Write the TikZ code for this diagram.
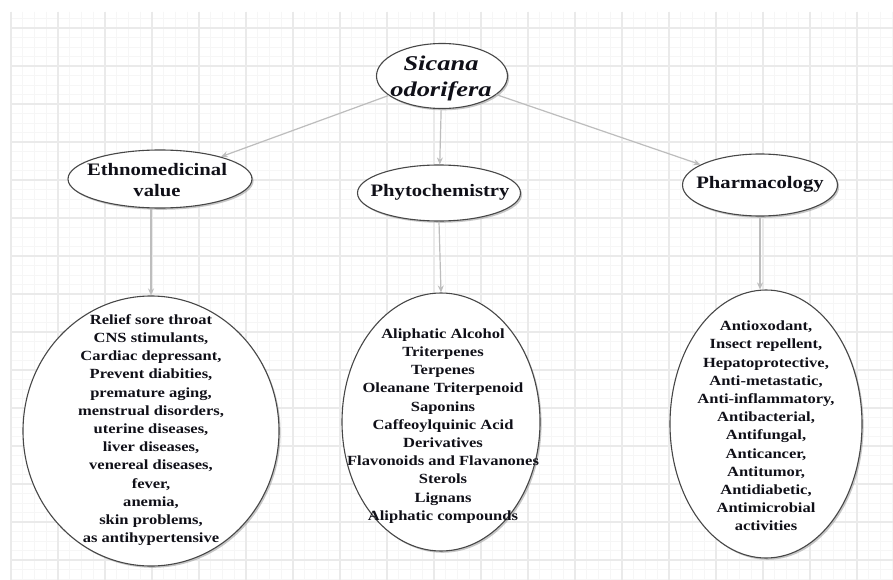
\documentclass[tikz,border=0pt]{standalone}
\usepackage{fontspec}
\setmainfont{Liberation Serif}
\newfontfamily\wideserif[FakeStretch=1.18]{Liberation Serif}
\newfontfamily\titleserif[FakeStretch=1.26]{Liberation Serif}
\usetikzlibrary{shapes.geometric,shadows,arrows.meta}

\definecolor{gridmajor}{HTML}{EAEAEA}
\definecolor{gridminor}{HTML}{F6F6F6}
\definecolor{linkgray}{HTML}{BDBDBD}
\definecolor{inkdark}{HTML}{101018}

\begin{document}
\begin{tikzpicture}[x=1pt,y=-1pt,
  oval/.style={ellipse, draw=black!72, line width=1.1pt, fill=white, inner sep=0pt,
    drop shadow={shadow xshift=1.6pt, shadow yshift=-1.8pt, fill=black!40, opacity=.55}},
  rootfont/.style={font=\titleserif\bfseries\itshape\fontsize{21}{26}\selectfont},
  headfont/.style={font=\wideserif\bfseries\fontsize{17.5}{20.5}\selectfont},
  listfont/.style={font=\wideserif\bfseries\fontsize{14}{18.2}\selectfont},
  txt/.style={text=inkdark, align=center, inner sep=0pt},
  link/.style={draw=linkgray, line width=1.2pt, -{Stealth[length=7pt,width=6pt]}}
]
% page and background grid
\fill[white] (0,0) rectangle (893,580);
\useasboundingbox (0,0) rectangle (893,580);
\foreach \k in {0,...,75} \draw[gridminor, line width=0.9pt] (11+\k*11.75,12) -- (11+\k*11.75,580);
\foreach \k in {-1,...,58} \draw[gridminor, line width=0.9pt] (10,28+\k*9.5) -- (893,28+\k*9.5);
\foreach \k in {0,...,18} \draw[gridmajor, line width=1.2pt] (11+\k*47,12) -- (11+\k*47,580);
\foreach \k in {0,...,14} \draw[gridmajor, line width=1.2pt] (10,28+\k*38) -- (893,28+\k*38);

% root
\node[oval, minimum width=131pt, minimum height=65pt] (root) at (442,76) {};
\node[txt, rootfont] (roottext) at (441,78) {Sicana\\odorifera};

% second level
\node[oval, minimum width=184pt, minimum height=58pt] (ethno) at (160,179) {};
\node[txt, headfont] (ethnotext) at (157,180) {Ethnomedicinal\\value};
\node[oval, minimum width=163pt, minimum height=56pt] (phyto) at (439,193) {};
\node[txt, headfont] (phytotext) at (440,192) {Phytochemistry};
\node[oval, minimum width=155pt, minimum height=62pt] (pharm) at (760,185) {};
\node[txt, headfont] (pharmtext) at (760,184) {Pharmacology};

% third level
\node[oval, minimum width=256pt, minimum height=270pt] (ethnolist) at (151,431) {};
\node[txt, listfont] (ethnolisttext) at (151,430) {Relief sore throat\\CNS stimulants,\\Cardiac depressant,\\Prevent diabities,\\premature aging,\\menstrual disorders,\\uterine diseases,\\liver diseases,\\venereal diseases,\\fever,\\anemia,\\skin problems,\\as antihypertensive};
\node[oval, minimum width=198pt, minimum height=258pt] (phytolist) at (441,422) {};
\node[txt, listfont] (phytolisttext) at (443,426) {Aliphatic Alcohol\\Triterpenes\\Terpenes\\Oleanane Triterpenoid\\Saponins\\Caffeoylquinic Acid\\Derivatives\\Flavonoids and Flavanones\\Sterols\\Lignans\\Aliphatic compounds};
\node[oval, minimum width=192pt, minimum height=268pt] (pharmlist) at (766,424) {};
\node[txt, listfont] (pharmlisttext) at (766,426) {Antioxodant,\\Insect repellent,\\Hepatoprotective,\\Anti-metastatic,\\Anti-inflammatory,\\Antibacterial,\\Antifungal,\\Anticancer,\\Antitumor,\\Antidiabetic,\\Antimicrobial\\activities};

% connectors
\draw[link] (root) -- (ethno);
\draw[link] (root) -- (phyto);
\draw[link] (root) -- (pharm);
\draw[link] (ethno.south -| ethnolist.north) -- (ethnolist.north);
\draw[link] (phyto.south) -- (phytolist.north);
\draw[link] (pharm.south) -- (pharmlist.north -| pharm.south);
\end{tikzpicture}
\end{document}
